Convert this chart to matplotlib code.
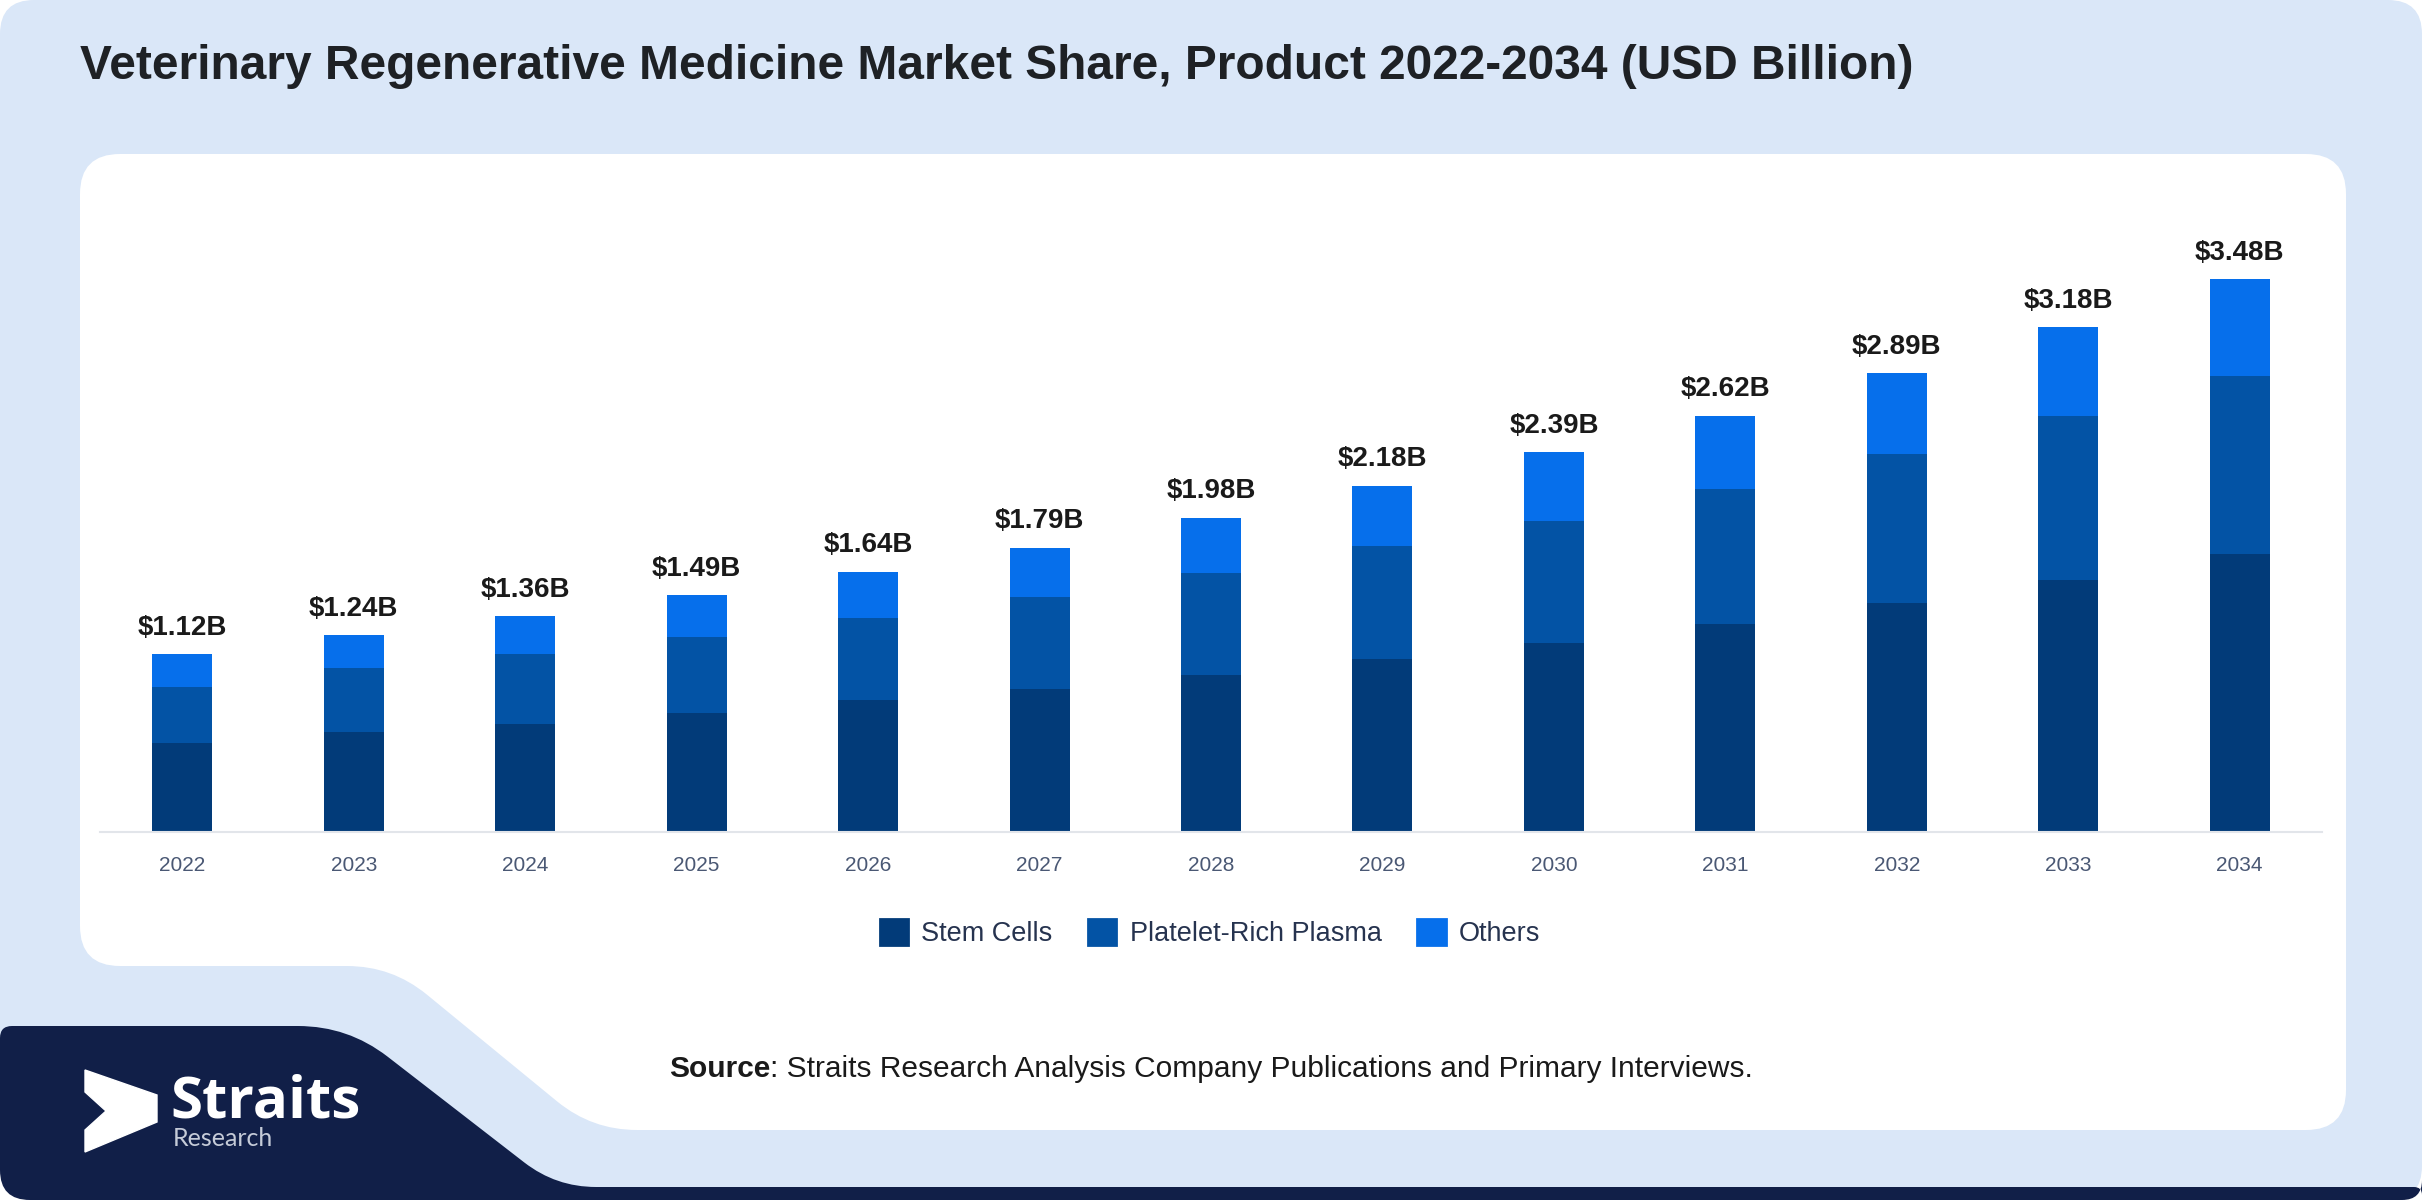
import numpy as np
import matplotlib
matplotlib.use('Agg')
import matplotlib.pyplot as plt
from matplotlib.path import Path
from matplotlib.patches import PathPatch, Patch, Polygon

plt.rcParams['font.family'] = ['Liberation Sans', 'DejaVu Sans']

# data (USD billion)
years = ['2022', '2023', '2024', '2025', '2026', '2027', '2028',
         '2029', '2030', '2031', '2032', '2033', '2034']
stem_cells = [0.56, 0.63, 0.68, 0.75, 0.83, 0.90, 0.99, 1.09, 1.19, 1.31, 1.44, 1.59, 1.75]
platelet_rich_plasma = [0.35, 0.40, 0.44, 0.48, 0.52, 0.58, 0.64, 0.71, 0.77, 0.85, 0.94, 1.03, 1.12]
others = [0.21, 0.21, 0.24, 0.26, 0.29, 0.31, 0.35, 0.38, 0.43, 0.46, 0.51, 0.56, 0.61]
totals = [1.12, 1.24, 1.36, 1.49, 1.64, 1.79, 1.98, 2.18, 2.39, 2.62, 2.89, 3.18, 3.48]
series_names = ['Stem Cells', 'Platelet-Rich Plasma', 'Others']
colors = ['#023B79', '#0353A5', '#066FEB']

W, H = 2422, 1200


def rounded_path(points, r):
    """closed path through points with corners rounded (quadratic curves)"""
    pts = np.asarray(points, dtype=float)
    n = len(pts)
    verts, codes = [], []
    for i in range(n):
        p = pts[i]
        a = pts[i - 1]
        b = pts[(i + 1) % n]
        ri = r[i] if np.ndim(r) else r
        da = (a - p) / np.linalg.norm(a - p)
        db = (b - p) / np.linalg.norm(b - p)
        p1 = p + da * ri
        p2 = p + db * ri
        verts.append(p1)
        codes.append(Path.MOVETO if i == 0 else Path.LINETO)
        verts += [p, p2]
        codes += [Path.CURVE3, Path.CURVE3]
    verts.append(verts[0])
    codes.append(Path.CLOSEPOLY)
    return Path(verts, codes)


fig = plt.figure(figsize=(W / 100, H / 100), dpi=100, facecolor='white')

# background card
bg = fig.add_axes([0, 0, 1, 1], zorder=0)
bg.set_xlim(0, W)
bg.set_ylim(H, 0)
bg.axis('off')

outer = rounded_path([(0, 0), (W, 0), (W, H), (0, H)], 34)
bg.add_patch(PathPatch(outer, facecolor='#DAE7F8', edgecolor='none'))

panel = rounded_path([(80, 154), (2346, 154), (2346, 1130), (592, 1130), (392, 966), (80, 966)],
                     [40, 40, 40, 45, 45, 40])
bg.add_patch(PathPatch(panel, facecolor='white', edgecolor='none'))

navy = rounded_path([(0, 1026), (348, 1026), (556, 1187), (W, 1187), (W, H), (0, H)],
                    [12, 50, 40, 8, 20, 30])
bg.add_patch(PathPatch(navy, facecolor='#111F48', edgecolor='none'))

# logo
icon = [(85, 1070), (157, 1095), (157, 1122), (85, 1152), (85, 1130), (106, 1111), (85, 1092)]
bg.add_patch(Polygon(icon, closed=True, facecolor='white', edgecolor='white', linewidth=1))
bg.text(170, 1117, 'Straits', color='white', fontsize=42, fontweight='bold',
        family=['Open Sans', 'DejaVu Sans'], va='baseline', ha='left')
bg.text(173, 1146, 'Research', color='#C5CBD8', fontsize=18,
        family=['Lato', 'DejaVu Sans'], va='baseline', ha='left')

# title
fig.text(80 / W, 1 - 79 / H, 'Veterinary Regenerative Medicine Market Share, Product 2022-2034 (USD Billion)',
         fontsize=34.5, fontweight='bold', color='#1E2125', ha='left', va='baseline')

# source line
src = bg.text(669, 1077, 'Source', fontsize=21.5, fontweight='bold',
              color='#1A1A1A', ha='left', va='baseline')
bg.annotate(': Straits Research Analysis Company Publications and Primary Interviews.',
            xy=(1, 0), xycoords=src, fontsize=21.5, color='#1A1A1A', ha='left', va='bottom')

# chart
px_per_unit = 158.8
base_y = 832
top_y = 154
ax = fig.add_axes([100 / W, 1 - base_y / H, 2222 / W, (base_y - top_y) / H], zorder=1)
ax.set_facecolor('none')

x = np.arange(len(years))
bottom = np.zeros(len(years))
for vals, name, c in zip([stem_cells, platelet_rich_plasma, others], series_names, colors):
    ax.bar(x, vals, width=0.35, bottom=bottom, color=c, label=name, zorder=2)
    bottom = bottom + np.array(vals)

for xi, top, t in zip(x, bottom, totals):
    ax.annotate(f'${t:.2f}B', xy=(xi, top), xytext=(0, 14), textcoords='offset points',
                ha='center', va='baseline', fontsize=20, fontweight='bold', color='#1A1A1A')

ax.set_xlim(-0.48, 12.48)
ax.set_ylim(0, (base_y - top_y) / px_per_unit)
ax.set_xticks(x)
ax.set_xticklabels(years, fontsize=15, color='#4A5874')
ax.tick_params(axis='x', length=0, pad=17)
ax.set_yticks([])
for s in ['top', 'right', 'left']:
    ax.spines[s].set_visible(False)
ax.spines['bottom'].set_color('#E2E5EA')
ax.spines['bottom'].set_linewidth(1.5)

handles = [Patch(facecolor=c, edgecolor=c, linewidth=2, joinstyle='round') for c in colors]
fig.legend(handles, series_names, loc='center', bbox_to_anchor=(1210 / W, 1 - 933 / H),
           ncol=3, frameon=False, fontsize=19.5, handlelength=1.05, handleheight=1.1,
           handletextpad=0.5, columnspacing=1.3, labelcolor='#26334F')

fig.savefig('out.png', dpi=100, facecolor='white')
